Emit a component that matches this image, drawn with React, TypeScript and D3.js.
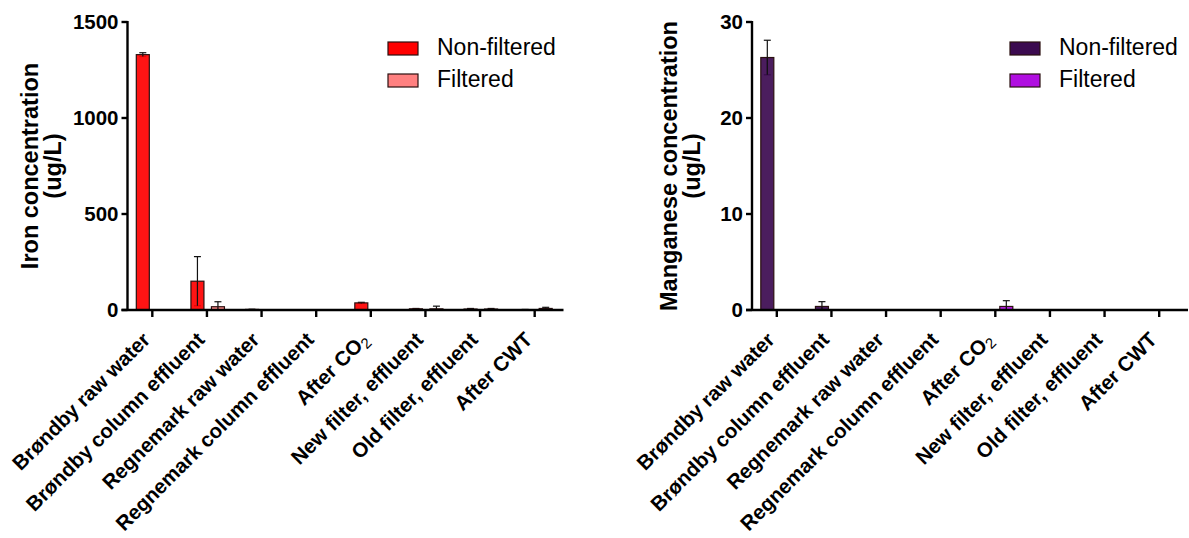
import React from 'react';
import * as d3 from 'd3';

// sampling points (x axis)
const categories = [
  'Brøndby raw water',
  'Brøndby column effluent',
  'Regnemark raw water',
  'Regnemark column effluent',
  'After CO2',
  'New filter, effluent',
  'Old filter, effluent',
  'After CWT',
];
const seriesNames = ['Non-filtered', 'Filtered'];

// iron, ug/L (mean and SD)
const ironNonFiltered = [1330, 150, 3, 1, 37, 6, 5, 2];
const ironNonFilteredSd = [10, 128, 1, 0.5, 3, 2, 3, 1];
const ironFiltered = [0, 17, 0, 0, 0, 6, 5, 8];
const ironFilteredSd = [0, 26, 0, 0, 0, 14, 3, 6];
const ironTicks = [0, 500, 1000, 1500];

// manganese, ug/L (mean and SD)
const mnNonFiltered = [26.3, 0.37, 0, 0, 0, 0, 0, 0];
const mnNonFilteredSd = [1.8, 0.5, 0, 0, 0, 0, 0, 0];
const mnFiltered = [0, 0, 0, 0, 0.37, 0, 0, 0];
const mnFilteredSd = [0, 0, 0, 0, 0.6, 0, 0, 0];
const mnTicks = [0, 10, 20, 30];

const font = "Arial, 'Liberation Sans', sans-serif";

function Label({ text }) {
  if (text === 'After CO2') {
    return (
      <>
        After CO
        <tspan fontWeight="normal" fontSize="15" dy="4">2</tspan>
      </>
    );
  }
  return <>{text}</>;
}

function Panel({ axisX, ticks, values, sds, colors, title, titleX, legendX }) {
  const top = 22, bottom = 310;
  const x = d3.scaleBand()
              .domain(categories)
              .range([axisX - 2.5, axisX - 2.5 + 437]);
  const y = d3.scaleLinear()
              .domain([0, ticks[ticks.length - 1]])
              .range([bottom, top]);
  const offsets = [-9.5, 11];
  const barW = 13;
  const xEnd = axisX + 436;
  const midY = (top + bottom) / 2;

  return (
    <g fontFamily={font}>
      {/* bars + error bars */}
      {values.map((vals, s) =>
        vals.map((v, i) => {
          if (v === 0 && sds[s][i] === 0) return null;
          const cx = x(categories[i]) + x.bandwidth() / 2 + offsets[s];
          const sd = sds[s][i];
          const yTop = y(v + sd);
          const yLow = y(Math.max(0, v - sd));
          return (
            <g key={s + '-' + i}>
              {sd > 0 && (
                <g stroke="#111" strokeWidth={1.2}>
                  <line x1={cx} x2={cx} y1={yTop} y2={yLow} />
                  <line x1={cx - 3.5} x2={cx + 3.5} y1={yTop} y2={yTop} />
                  <line x1={cx - 3.5} x2={cx + 3.5} y1={yLow} y2={yLow} />
                </g>
              )}
              <rect x={cx - barW / 2} y={y(v)} width={barW} height={bottom - y(v)}
                    fill={colors[s]} fillOpacity={0.92} stroke="#2a1010" strokeWidth={1.2} />
              {sd > 0 && (
                <line x1={cx} x2={cx} y1={y(v)} y2={yLow} stroke="#111" strokeWidth={1.2} />
              )}
            </g>
          );
        })
      )}

      {/* y axis */}
      <line x1={axisX} x2={axisX} y1={top - 1} y2={bottom + 1} stroke="#000" strokeWidth={2.4} />
      {ticks.map(t => (
        <g key={t}>
          <line x1={axisX - 6} x2={axisX} y1={y(t)} y2={y(t)} stroke="#000" strokeWidth={2.4} />
          <text x={axisX - 9} y={y(t)} dy="0.36em" textAnchor="end" fontSize="20.5" fontWeight="bold">{t}</text>
        </g>
      ))}

      {/* x axis */}
      <line x1={axisX - 6} x2={xEnd} y1={bottom} y2={bottom} stroke="#000" strokeWidth={2.4} />
      {categories.map(c => {
        const cx = x(c) + x.bandwidth() / 2;
        return (
          <g key={c}>
            <line x1={cx} x2={cx} y1={bottom} y2={bottom + 7} stroke="#000" strokeWidth={2.4} />
            <text transform={`translate(${cx - 1},${bottom + 31}) rotate(-45)`}
                  textAnchor="end" fontSize="20.5" fontWeight="bold">
              <Label text={c} />
            </text>
          </g>
        );
      })}

      {/* y title */}
      <text transform={`translate(${titleX},${midY}) rotate(-90)`} textAnchor="middle"
            fontSize="23.5" fontWeight="bold">
        <tspan x="0" y="0">{title}</tspan>
        <tspan x="0" y="23">(ug/L)</tspan>
      </text>

      {/* legend */}
      {seriesNames.map((n, s) => (
        <g key={n} transform={`translate(${legendX},${42 + s * 32})`}>
          <rect x={0} y={0} width={30} height={13} fill={colors[s]} stroke="#2a1010" strokeWidth={1.2} />
          <text x={49} y={13} fontSize="23">{n}</text>
        </g>
      ))}
    </g>
  );
}

export default function App() {
  return (
    <svg width={1189} height={538} style={{ position: 'absolute', left: 0, top: 0, background: '#fff' }}>
      <Panel axisX={127.5}
             ticks={ironTicks}
             values={[ironNonFiltered, ironFiltered]}
             sds={[ironNonFilteredSd, ironFilteredSd]}
             colors={['#ff0000', '#ff8080']}
             title="Iron concentration"
             titleX={38}
             legendX={388} />
      <Panel axisX={752}
             ticks={mnTicks}
             values={[mnNonFiltered, mnFiltered]}
             sds={[mnNonFilteredSd, mnFilteredSd]}
             colors={['#3c0a50', '#b00ee0']}
             title="Manganese concentration"
             titleX={677}
             legendX={1010} />
    </svg>
  );
}
